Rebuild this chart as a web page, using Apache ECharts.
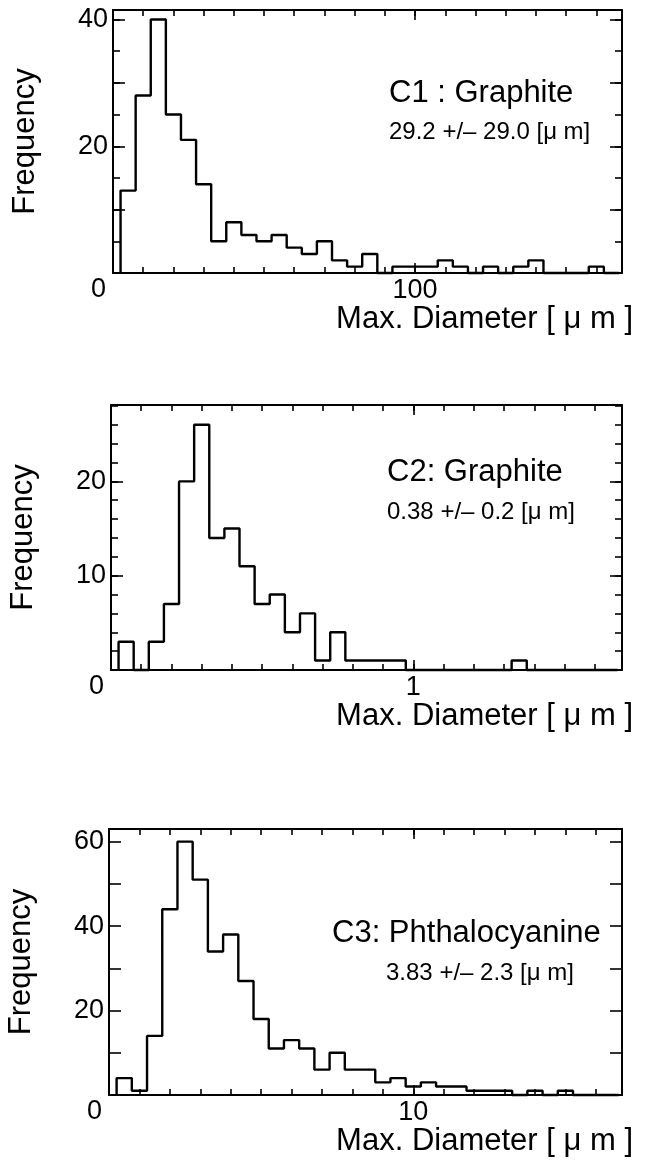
<!DOCTYPE html>
<html><head><meta charset="utf-8">
<script src="https://cdn.jsdelivr.net/npm/echarts@6/dist/echarts.min.js"></script>
<style>html,body{margin:0;padding:0;background:#fff}#c{width:648px;height:1162px}</style>
</head><body><div id="c"></div>
<script>
// ---- data: C1 Graphite (bins of 5 um starting at 2.5 um) ----
const c1BinStart = 2.5;
const c1BinWidth = 5;
const c1Counts = [13, 28, 40, 25, 21, 14, 5, 8, 6, 5, 6, 4, 3, 5, 2, 1, 3, 0, 1, 1, 1, 2, 1, 0, 1, 0, 1, 2, 0, 0, 0, 1, 0];
const c1XLabels = [100];
const c1YLabels = [0, 20, 40];

// ---- data: C2 Graphite (bins of 0.05 um starting at 0.025 um) ----
const c2BinStart = 0.025;
const c2BinWidth = 0.05;
const c2Counts = [3, 0, 3, 7, 20, 26, 14, 15, 11, 7, 8, 4, 6, 1, 4, 1, 1, 1, 1, 0, 0, 0, 0, 0, 0, 0, 1, 0, 0, 0, 0, 0, 0];
const c2XLabels = [1];
const c2YLabels = [0, 10, 20];

// ---- data: C3 Phthalocyanine (bins of 0.5 um starting at 0.25 um) ----
const c3BinStart = 0.25;
const c3BinWidth = 0.5;
const c3Counts = [4, 1, 14, 44, 60, 51, 34, 38, 27, 18, 11, 13, 11, 6, 10, 6, 6, 3, 4, 2, 3, 2, 2, 1, 1, 1, 0, 1, 0, 1, 0, 0, 0];
const c3XLabels = [10];
const c3YLabels = [0, 20, 40, 60];

const titles = ['C1 : Graphite', 'C2: Graphite', 'C3: Phthalocyanine'];
const stats = ['29.2 +/\u2013 29.0 [\u03bc m]', '0.38 +/\u2013 0.2 [\u03bc m]', '3.83 +/\u2013 2.3 [\u03bc m]'];
const xName = 'Max. Diameter [ \u03bc m ]';
const yName = 'Frequency';

// ---- layout (not data) ----
const FONT = '"Liberation Sans", Arial, Helvetica, sans-serif';
const panels = [
  {start: c1BinStart, width: c1BinWidth, counts: c1Counts, xl: c1XLabels, yl: c1YLabels,
   grid: {left: 113, top: 10, width: 509, height: 263}, xMax: 168.5, yMax: 41.5,
   xMajor: 100, xMinor: 10, yMajor: 10, yMinor: 5,
   title: [389, 93], stat: [389, 132]},
  {start: c2BinStart, width: c2BinWidth, counts: c2Counts, xl: c2XLabels, yl: c2YLabels,
   grid: {left: 111, top: 405, width: 511, height: 265}, xMax: 1.69, yMax: 28.1,
   xMajor: 1, xMinor: 0.1, yMajor: 10, yMinor: 2,
   title: [387, 472], stat: [387, 512]},
  {start: c3BinStart, width: c3BinWidth, counts: c3Counts, xl: c3XLabels, yl: c3YLabels,
   grid: {left: 109, top: 829, width: 513, height: 266}, xMax: 16.86, yMax: 63.0,
   xMajor: 10, xMinor: 1, yMajor: 10, yMinor: null,
   title: [332, 933], stat: [386, 973]}
];

function stepPoints(start, width, counts) {
  const pts = [[start, 0]];
  counts.forEach((c, k) => pts.push([start + k * width, c]));
  const end = start + counts.length * width;
  pts.push([end, counts[counts.length - 1]]);
  pts.push([end, 0]);
  return pts;
}

const near = (a, b) => Math.abs(a - b) < 1e-6;
const grids = [], xAxes = [], yAxes = [], series = [], graphics = [];
const lineStyle = {color: '#000', width: 2};
const tickStyle = {color: '#000', width: 1.6};

panels.forEach((p, i) => {
  grids.push(Object.assign({containLabel: false, outerBoundsMode: 'none'}, p.grid));
  const xBase = {gridIndex: i, type: 'value', min: 0, max: p.xMax, splitLine: {show: false}};
  const yBase = {gridIndex: i, type: 'value', min: 0, max: p.yMax, splitLine: {show: false}};
  const xi = xAxes.length, yi = yAxes.length;
  xAxes.push(Object.assign({}, xBase, {
    position: 'bottom', interval: p.xMajor,
    axisLine: {show: true, onZero: false, lineStyle: lineStyle},
    axisTick: {show: true, inside: true, length: 10, lineStyle: tickStyle},
    axisLabel: {show: true, margin: 4, fontSize: 27, color: '#000', fontFamily: FONT,
      formatter: v => p.xl.some(l => near(l, v)) ? String(v) : ''},
    name: xName, nameLocation: 'end', nameGap: 11, nameMoveOverlap: false,
    nameTextStyle: {fontSize: 31, color: '#000', fontFamily: FONT, align: 'right', verticalAlign: 'top', padding: [31, 0, 0, 0]}
  }));
  xAxes.push(Object.assign({}, xBase, {
    position: 'bottom', interval: p.xMinor,
    axisLine: {show: false, onZero: false},
    axisTick: {show: true, inside: true, length: 6, lineStyle: tickStyle},
    axisLabel: {show: false}
  }));
  xAxes.push(Object.assign({}, xBase, {
    position: 'top', interval: p.xMajor,
    axisLine: {show: true, onZero: false, lineStyle: lineStyle},
    axisTick: {show: true, inside: true, length: 10, lineStyle: tickStyle},
    axisLabel: {show: false}
  }));
  xAxes.push(Object.assign({}, xBase, {
    position: 'top', interval: p.xMinor,
    axisLine: {show: false, onZero: false},
    axisTick: {show: true, inside: true, length: 6, lineStyle: tickStyle},
    axisLabel: {show: false}
  }));
  yAxes.push(Object.assign({}, yBase, {
    position: 'left', interval: p.yMajor,
    axisLine: {show: true, onZero: false, lineStyle: lineStyle},
    axisTick: {show: true, inside: true, length: 12, lineStyle: tickStyle},
    axisLabel: {show: true, margin: 5, fontSize: 27, color: '#000', fontFamily: FONT,
      formatter: v => near(v, 0) ? '{z|0}' : (p.yl.some(l => near(l, v)) ? String(v) : ''),
      rich: {z: {fontSize: 27, color: '#000', fontFamily: FONT, padding: [34, 2, 0, 0]}}},
    name: yName, nameLocation: 'middle', nameGap: 72, nameMoveOverlap: false,
    nameTextStyle: {fontSize: 31, color: '#000', fontFamily: FONT}
  }));
  yAxes.push(Object.assign({}, yBase, {
    position: 'right', interval: p.yMajor,
    axisLine: {show: true, onZero: false, lineStyle: lineStyle},
    axisTick: {show: true, inside: true, length: 12, lineStyle: tickStyle},
    axisLabel: {show: false}
  }));
  if (p.yMinor) {
    yAxes.push(Object.assign({}, yBase, {
      position: 'left', interval: p.yMinor,
      axisLine: {show: false, onZero: false},
      axisTick: {show: true, inside: true, length: 7, lineStyle: tickStyle},
      axisLabel: {show: false}
    }));
    yAxes.push(Object.assign({}, yBase, {
      position: 'right', interval: p.yMinor,
      axisLine: {show: false, onZero: false},
      axisTick: {show: true, inside: true, length: 7, lineStyle: tickStyle},
      axisLabel: {show: false}
    }));
  }
  series.push({
    type: 'line', xAxisIndex: xi, yAxisIndex: yi, step: 'end', symbol: 'none',
    lineStyle: {color: '#000', width: 2.4}, data: stepPoints(p.start, p.width, p.counts),
    silent: true, clip: false
  });
  graphics.push({type: 'text', x: p.title[0], y: p.title[1],
    style: {text: titles[i], font: '31px ' + FONT, fill: '#000', verticalAlign: 'middle', textVerticalAlign: 'middle'}});
  graphics.push({type: 'text', x: p.stat[0], y: p.stat[1],
    style: {text: stats[i], font: '24px ' + FONT, fill: '#000', verticalAlign: 'middle', textVerticalAlign: 'middle'}});
});

const chart = echarts.init(document.getElementById('c'), null, {renderer: 'canvas'});
chart.setOption({
  animation: false,
  backgroundColor: '#fff',
  grid: grids, xAxis: xAxes, yAxis: yAxes, series: series, graphic: graphics
});
</script>
</body></html>
